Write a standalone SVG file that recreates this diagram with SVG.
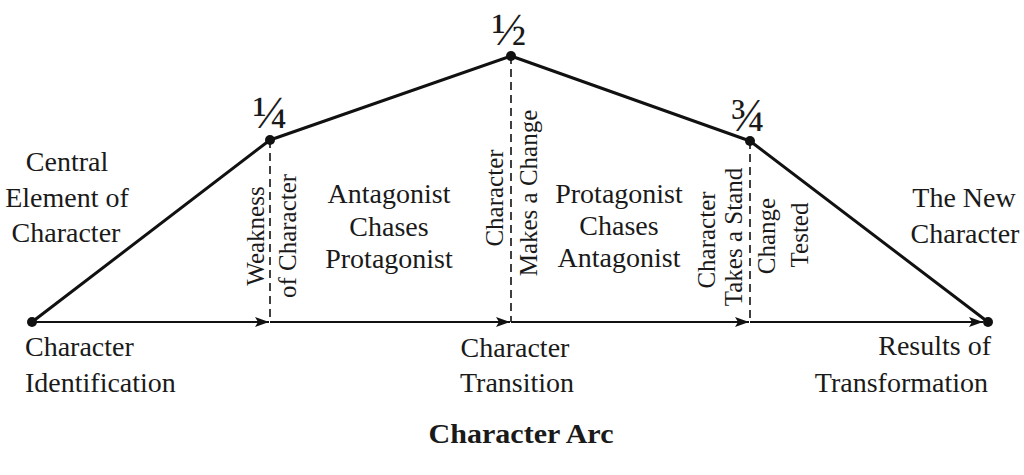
<svg xmlns="http://www.w3.org/2000/svg" width="1024" height="475" viewBox="0 0 1024 475">
<style>
  text { font-family: "Liberation Serif", "Times New Roman", serif; fill: #1a1a1a; }
  .lbl { font-size: 28px; text-anchor: middle; }
  .vl { font-size: 25px; text-anchor: middle; }
  .title { font-size: 27px; font-weight: bold; text-anchor: middle; }
  .frac { font-size: 46px; text-anchor: middle; }
  .arc { fill: none; stroke: #111; stroke-width: 3; stroke-linejoin: round; }
  .axis { stroke: #111; stroke-width: 2; marker-end: url(#arrow); }
  .dash { stroke: #111; stroke-width: 1.6; stroke-dasharray: 8 5; }
  .dot { fill: #111; }
</style>
<defs>
  <marker id="arrow" markerUnits="userSpaceOnUse" markerWidth="16" markerHeight="12" refX="14" refY="6" orient="auto">
    <path d="M0,1 L14,6 L0,11 L3,6 Z" fill="#111"/>
  </marker>
</defs>
<rect width="1024" height="475" fill="#ffffff"/>

<g id="connectors">
  <line class="dash" x1="270" y1="140" x2="270" y2="322"/>
  <line class="dash" x1="511" y1="56" x2="511" y2="322"/>
  <line class="dash" x1="750" y1="141" x2="750" y2="322"/>
  <line class="axis" x1="32" y1="322" x2="269" y2="322"/>
  <line class="axis" x1="270" y1="322" x2="510" y2="322"/>
  <line class="axis" x1="511" y1="322" x2="749" y2="322"/>
  <line class="axis" x1="750" y1="322" x2="983" y2="322"/>
  <polyline class="arc" points="32,322 270,140 511,56 750,141 988,322"/>
</g>

<g id="node-start">
  <circle class="dot" cx="32" cy="322" r="5"/>
  <text class="lbl" x="67" y="171">Central</text>
  <text class="lbl" x="67" y="207">Element of</text>
  <text class="lbl" x="66" y="242">Character</text>
  <text class="lbl" x="25" y="356" style="text-anchor:start">Character</text>
  <text class="lbl" x="25" y="392" style="text-anchor:start">Identification</text>
</g>

<g id="node-quarter">
  <circle class="dot" cx="270" cy="140" r="5"/>
  <text class="frac" x="270" y="128">¼</text>
  <text class="vl" transform="translate(264,236) rotate(-90)">Weakness</text>
  <text class="vl" transform="translate(296,236) rotate(-90)">of Character</text>
</g>

<g id="node-antagonist-chases">
  <text class="lbl" x="389" y="203">Antagonist</text>
  <text class="lbl" x="389" y="236">Chases</text>
  <text class="lbl" x="389" y="268">Protagonist</text>
</g>

<g id="node-half">
  <circle class="dot" cx="511" cy="56" r="5"/>
  <text class="frac" x="509" y="45">½</text>
  <text class="vl" transform="translate(503,198) rotate(-90)">Character</text>
  <text class="vl" transform="translate(537,193) rotate(-90)">Makes a Change</text>
</g>

<g id="node-protagonist-chases">
  <text class="lbl" x="619" y="203">Protagonist</text>
  <text class="lbl" x="619" y="235">Chases</text>
  <text class="lbl" x="619" y="267">Antagonist</text>
</g>

<g id="node-three-quarter">
  <circle class="dot" cx="750" cy="141" r="5"/>
  <text class="frac" x="748" y="131">¾</text>
  <text class="vl" transform="translate(715,240) rotate(-90)">Character</text>
  <text class="vl" transform="translate(742,237) rotate(-90)">Takes a Stand</text>
  <text class="vl" transform="translate(775,236) rotate(-90)">Change</text>
  <text class="vl" transform="translate(808,235) rotate(-90)">Tested</text>
</g>

<g id="node-end">
  <circle class="dot" cx="988" cy="322" r="5"/>
  <text class="lbl" x="964" y="207">The New</text>
  <text class="lbl" x="965" y="243">Character</text>
  <text class="lbl" x="991" y="355" style="text-anchor:end">Results of</text>
  <text class="lbl" x="988" y="392" style="text-anchor:end">Transformation</text>
</g>

<g id="node-transition">
  <text class="lbl" x="515" y="357">Character</text>
  <text class="lbl" x="517" y="392">Transition</text>
</g>

<g id="title">
  <text class="title" x="521" y="443" textLength="185" lengthAdjust="spacingAndGlyphs">Character Arc</text>
</g>
</svg>
